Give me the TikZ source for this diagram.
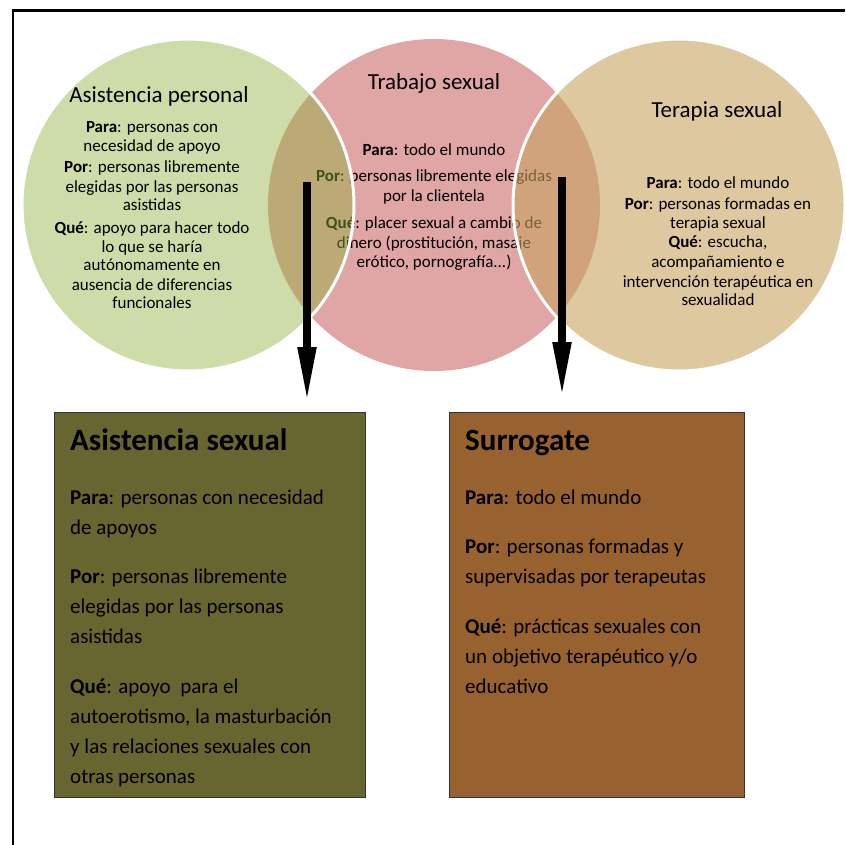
\documentclass[tikz,border=0pt]{standalone}
\usepackage{fontspec}
\setmainfont{Carlito}
\usetikzlibrary{arrows.meta}
\definecolor{pinkc}{RGB}{224,165,165}
\definecolor{greenc}{RGB}{144,178,62}
\definecolor{tanc}{RGB}{200,163,97}
\definecolor{olivebox}{RGB}{103,101,48}
\definecolor{brownbox}{RGB}{152,98,48}
\begin{document}
\begin{tikzpicture}[x=1pt,y=-1pt,
  venn/.style={circle, minimum size=332pt, inner sep=0pt, outer sep=0pt},
  circtxt/.style={anchor=base, inner sep=0pt, font=\fontsize{17}{20}\selectfont},
  circtitle/.style={anchor=base, inner sep=0pt, font=\fontsize{23}{27}\selectfont},
  boxtxt/.style={anchor=base west, inner sep=0pt, font=\fontsize{21}{30}\selectfont},
  boxtitle/.style={anchor=base west, inner sep=0pt, font=\fontsize{31}{36}\selectfont\bfseries},
  infobox/.style={draw=black!80, line width=1.2pt, anchor=north west, minimum width=311pt, minimum height=385pt, inner sep=0pt},
  bigarrow/.style={line width=8pt, -{Triangle[length=56pt,width=17pt]}},
]
\useasboundingbox (0,0) rectangle (845,845);
\clip (0,0) rectangle (845,845);
% pink circle (bottom layer)
\node[venn, fill=pinkc] (pink) at (434,205) {};
\node[circtitle] (pt) at (434,90) {Trabajo sexual};
\node[circtxt] (p1) at (434,156) {\textbf{Para}: todo el mundo};
\node[circtxt] (p2) at (434,182) {\textbf{Por}: personas libremente elegidas};
\node[circtxt] (p3) at (434,201) {por la clientela};
\node[circtxt] (p4) at (434,228) {\textbf{Qué}: placer sexual a cambio de};
\node[circtxt] (p5) at (434,248) {dinero (prostitución, masaje};
\node[circtxt] (p6) at (434,267) {erótico, pornografía...)};
% green and tan circles over it
\node[venn, fill=greenc, fill opacity=0.45, draw=white, line width=3pt] (green) at (188,205) {};
\node[venn, fill=tanc, fill opacity=0.6, draw=white, line width=3pt] (tan) at (679,205) {};
% green texts
\node[circtitle] (gt) at (159,103) {Asistencia personal};
\node[circtxt] (g1) at (152,133) {\textbf{Para}: personas con};
\node[circtxt] (g2) at (152,152) {necesidad de apoyo};
\node[circtxt] (g3) at (152,173) {\textbf{Por}: personas libremente};
\node[circtxt] (g4) at (152,192) {elegidas por las personas};
\node[circtxt] (g5) at (152,210) {asistidas};
\node[circtxt] (g6) at (152,233) {\textbf{Qué}: apoyo para hacer todo};
\node[circtxt] (g7) at (152,252) {lo que se haría};
\node[circtxt] (g8) at (152,270) {autónomamente en};
\node[circtxt] (g9) at (152,290) {ausencia de diferencias};
\node[circtxt] (g10) at (152,308) {funcionales};
% tan texts
\node[circtitle] (tt) at (717,118) {Terapia sexual};
\node[circtxt] (t1) at (718,189) {\textbf{Para}: todo el mundo};
\node[circtxt] (t2) at (718,209) {\textbf{Por}: personas formadas en};
\node[circtxt] (t3) at (718,228) {terapia sexual};
\node[circtxt] (t4) at (718,247) {\textbf{Qué}: escucha,};
\node[circtxt] (t5) at (718,267) {acompañamiento e};
\node[circtxt] (t6) at (718,287) {intervención terapéutica en};
\node[circtxt] (t7) at (718,305) {sexualidad};
% boxes
\node[infobox, fill=olivebox] (lbox) at (54,412) {};
\node[infobox, fill=brownbox, minimum width=295pt] (rbox) at (449,412) {};
\node[boxtitle] (lt) at (70,450) {Asistencia sexual};
\node[boxtxt] (l1) at (70,504) {\textbf{Para}: personas con necesidad};
\node[boxtxt] (l2) at (70,534) {de apoyos};
\node[boxtxt] (l3) at (70,583) {\textbf{Por}: personas libremente};
\node[boxtxt] (l4) at (70,613) {elegidas por las personas};
\node[boxtxt] (l5) at (70,643) {asistidas};
\node[boxtxt] (l6) at (70,693) {\textbf{Qué}: apoyo\ \ para el};
\node[boxtxt] (l7) at (70,723) {autoerotismo, la masturbación};
\node[boxtxt] (l8) at (70,753) {y las relaciones sexuales con};
\node[boxtxt] (l9) at (70,783) {otras personas};
\node[boxtitle] (rt) at (465,450) {Surrogate};
\node[boxtxt] (r1) at (465,504) {\textbf{Para}: todo el mundo};
\node[boxtxt] (r2) at (465,553) {\textbf{Por}: personas formadas y};
\node[boxtxt] (r3) at (465,583) {supervisadas por terapeutas};
\node[boxtxt] (r4) at (465,633) {\textbf{Qué}: prácticas sexuales con};
\node[boxtxt] (r5) at (465,663) {un objetivo terapéutico y/o};
\node[boxtxt] (r6) at (465,693) {educativo};
% arrows
\coordinate (a1s) at (307,182);
\coordinate (a1e) at (307,403);
\coordinate (a2s) at (562,177);
\coordinate (a2e) at (562,398);
\draw[bigarrow] (a1s) -- (a1e);
\draw[bigarrow] (a2s) -- (a2e);
% frame
\draw[line width=2.5pt] (13,845) -- (13,10.5) -- (845,10.5);
\end{tikzpicture}
\end{document}
